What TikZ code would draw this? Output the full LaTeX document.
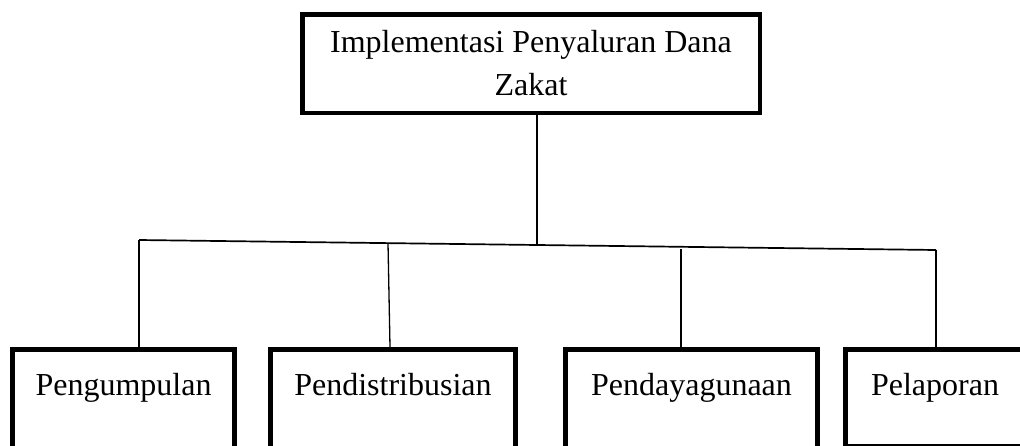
\documentclass[tikz,border=0pt]{standalone}
\usepackage{fontspec}
\setmainfont{Liberation Serif}
\usepackage{tikz}
\usetikzlibrary{positioning}

\begin{document}
\begin{tikzpicture}[x=1pt, y=-1pt,
		rootbox/.style={rectangle, draw, line width=4.5pt, minimum width=457.5pt, minimum height=98.5pt, align=center, font=\fontsize{32}{43}\selectfont},
		leafbox/.style={rectangle, draw, line width=5pt, inner ysep=0pt, text height=45.5pt, text depth=75pt, font=\fontsize{32}{38}\selectfont},
		bus/.style={line width=1.7pt},
		link/.style={line width=1.3pt}]
				\useasboundingbox (0,0) rectangle (1020,445);
				\clip (0,0) rectangle (1020,445);
				\node[rootbox] (induk) at (531,63.5) {Implementasi Penyaluran Dana\\Zakat};
				\node[leafbox, minimum width=222pt, anchor=base west] (kumpul) at (10,395) {Pengumpulan};
				\node[leafbox, minimum width=245pt, base right=31pt of kumpul] (distribusi) {Pendistribusian};
				\node[leafbox, minimum width=252pt, base right=45pt of distribusi] (daya) {Pendayagunaan};
				\node[leafbox, minimum width=179pt, text depth=51.5pt, base right=23pt of daya] (lapor) {Pelaporan};
				
				\coordinate (busL) at (139,240);
				\coordinate (busR) at (936,250);
				\coordinate (busM) at (537,245);
				\coordinate (busD) at (388,243);
				\coordinate (busY) at (681,249);
				
				\draw[bus] (busL) -- (busR);
				\draw[link] (busM |- induk.south) -- (busM);
				\draw[link] (busL) -- (busL |- kumpul.north);
				\draw[link] (busD) -- ([xshift=-3pt]distribusi.north);
				\draw[link] (busY) -- (busY |- daya.north);
				\draw[link] (busR) -- (busR |- lapor.north);
			\end{tikzpicture}
\end{document}
